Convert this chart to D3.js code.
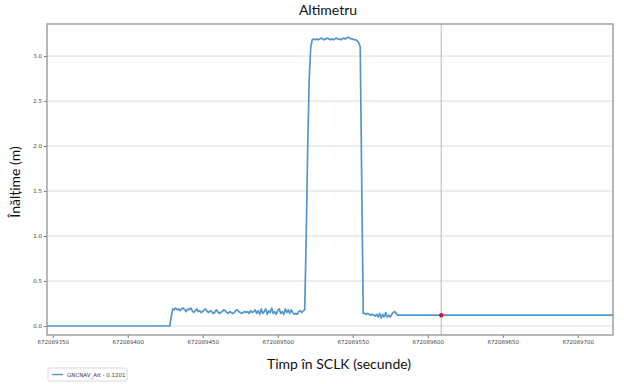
<!DOCTYPE html>
<html lang="ro">
<head>
<meta charset="UTF-8">
<title>Altimetru</title>
<style>
  body { margin: 0; background: #fff; }
  svg { display: block; }
</style>
</head>
<body>
<div id="chart"></div>
<script src="https://d3js.org/d3.v7.min.js"></script>
<script>
// SCLK base, sample times are seconds after this
const sclkBase = 672089000;

// altimeter samples: [seconds after base, height in m]
const altSamples = [
  [346, 0], [428, 0], [429, 0.1],
  [430, 0.19], [431, 0.18], [432, 0.2], [433, 0.18], [434, 0.19], [435, 0.17], [436, 0.19], [437, 0.2], [438, 0.18], [439, 0.16],
  [440, 0.19], [441, 0.18], [442, 0.2], [443, 0.17], [444, 0.15], [445, 0.17], [446, 0.19], [447, 0.16], [448, 0.17], [449, 0.15],
  [450, 0.16], [451, 0.18], [452, 0.19], [453, 0.16], [454, 0.15], [455, 0.17], [456, 0.16], [457, 0.14], [458, 0.15], [459, 0.18],
  [460, 0.16], [461, 0.14], [462, 0.15], [463, 0.16], [464, 0.18], [465, 0.17], [466, 0.15], [467, 0.14], [468, 0.16], [469, 0.15],
  [470, 0.14], [471, 0.15], [472, 0.17], [473, 0.18], [474, 0.16], [475, 0.15], [476, 0.14], [477, 0.15], [478, 0.16], [479, 0.15],
  [480, 0.16], [481, 0.14], [482, 0.17], [483, 0.15], [484, 0.16], [485, 0.18], [486, 0.14], [487, 0.17], [488, 0.13], [489, 0.19],
  [490, 0.14], [491, 0.16], [492, 0.19], [493, 0.13], [494, 0.17], [495, 0.15], [496, 0.2], [497, 0.14], [498, 0.16], [499, 0.13],
  [500, 0.17], [501, 0.19], [502, 0.14], [503, 0.16], [504, 0.13], [505, 0.19], [506, 0.15], [507, 0.18], [508, 0.14], [509, 0.18],
  [510, 0.15], [511, 0.13], [512, 0.14], [513, 0.13], [514, 0.16], [515, 0.17], [516, 0.15], [517, 0.17], [518, 0.18],
  [519, 1.0], [520, 2.0], [521, 2.75], [522, 3.1], [523, 3.18],
  [524, 3.19], [525, 3.18], [526, 3.19], [527, 3.18], [528, 3.19], [529, 3.2], [530, 3.19], [531, 3.18], [532, 3.19], [533, 3.2],
  [534, 3.19], [535, 3.18], [536, 3.19], [537, 3.18], [538, 3.19], [539, 3.2], [540, 3.19], [541, 3.19], [542, 3.18], [543, 3.19],
  [544, 3.2], [545, 3.19], [546, 3.2], [547, 3.21], [548, 3.2], [549, 3.19], [550, 3.19], [551, 3.18], [552, 3.18], [553, 3.17],
  [554, 3.15], [555, 3.1], [556, 1.6], [557, 0.14],
  [558, 0.14], [559, 0.13], [560, 0.14], [561, 0.13], [562, 0.12], [563, 0.13], [564, 0.12], [565, 0.11], [566, 0.13], [567, 0.1], [568, 0.14],
  [569, 0.09], [570, 0.13], [571, 0.1], [572, 0.15], [573, 0.1], [574, 0.12], [575, 0.1], [576, 0.13], [577, 0.15], [578, 0.16],
  [579, 0.14], [580, 0.12], [581, 0.12], [724, 0.12]
];

const cursorTime = 609;
const cursorValue = 0.1201;
const seriesName = "GNCNAV_Alt";

const xTicks = [350, 400, 450, 500, 550, 600, 650, 700];
const yTicks = [0, 0.5, 1, 1.5, 2, 2.5, 3];

const chartTitle = "Altimetru";
const xTitle = "Timp în SCLK (secunde)";
const yTitle = "Înălțime (m)";

const width = 624, height = 384;
const margin = { top: 24, right: 11, bottom: 49, left: 47 };
const innerW = width - margin.left - margin.right;
const innerH = height - margin.top - margin.bottom;
const lineColor = "#5596cc";
const labelFont = "Lato, 'Open Sans', sans-serif";

const svg = d3.select("#chart").append("svg")
  .attr("width", width)
  .attr("height", height);

const x = d3.scaleLinear()
  .domain([346.2, 723.5])
  .range([0, innerW]);

const y = d3.scaleLinear()
  .domain([-0.1, 3.356])
  .range([innerH, 0]);

const g = svg.append("g")
  .attr("transform", `translate(${margin.left},${margin.top})`);

// horizontal grid
g.append("g")
  .selectAll("line")
  .data(yTicks)
  .enter()
  .append("line")
  .attr("x1", 0)
  .attr("x2", innerW)
  .attr("y1", d => y(d))
  .attr("y2", d => y(d))
  .attr("stroke", "#dcdcdc")
  .attr("stroke-width", 1);

// cursor line
g.append("line")
  .attr("x1", x(cursorTime))
  .attr("x2", x(cursorTime))
  .attr("y1", 0)
  .attr("y2", innerH)
  .attr("stroke", "#b8b8b8")
  .attr("stroke-width", 1);

// data line
const line = d3.line()
  .x(d => x(d[0]))
  .y(d => y(d[1]));

g.append("path")
  .datum(altSamples)
  .attr("d", line)
  .attr("fill", "none")
  .attr("stroke", lineColor)
  .attr("stroke-width", 1.7)
  .attr("stroke-linejoin", "round");

g.append("circle")
  .attr("cx", x(cursorTime))
  .attr("cy", y(cursorValue))
  .attr("r", 2.2)
  .attr("fill", "#d0102a");

// axes
const xAxis = g.append("g")
  .attr("transform", `translate(0,${innerH})`)
  .call(d3.axisBottom(x).tickValues(xTicks).tickSize(3).tickPadding(2)
    .tickFormat(d => String(sclkBase + d)));

const yAxis = g.append("g")
  .call(d3.axisLeft(y).tickValues(yTicks).tickSize(3).tickPadding(2)
    .tickFormat(d3.format(".1f")));

[xAxis, yAxis].forEach(a => {
  a.select(".domain").remove();
  a.selectAll(".tick line").attr("stroke", "#777");
  a.selectAll(".tick text")
    .attr("fill", "#444")
    .style("font-family", "'DejaVu Sans', sans-serif")
    .style("font-size", "5.5px");
});

// frame
g.append("rect")
  .attr("x", 0)
  .attr("y", 0)
  .attr("width", innerW)
  .attr("height", innerH)
  .attr("fill", "none")
  .attr("stroke", "#9a9a9a")
  .attr("stroke-width", 1.4);

// titles
svg.append("text")
  .attr("x", 328)
  .attr("y", 15)
  .attr("text-anchor", "middle")
  .style("font-family", labelFont)
  .style("font-size", "14px")
  .attr("fill", "#111")
  .text(chartTitle);

svg.append("text")
  .attr("x", 339)
  .attr("y", 369)
  .attr("text-anchor", "middle")
  .style("font-family", labelFont)
  .style("font-size", "14px")
  .attr("fill", "#111")
  .text(xTitle);

svg.append("text")
  .attr("transform", "translate(20,182) rotate(-90)")
  .attr("text-anchor", "middle")
  .style("font-family", labelFont)
  .style("font-size", "14px")
  .attr("fill", "#111")
  .text(yTitle);

// legend
const legend = svg.append("g").attr("transform", "translate(48,368)");
legend.append("rect")
  .attr("width", 79)
  .attr("height", 13)
  .attr("rx", 1.5)
  .attr("fill", "#fff")
  .attr("stroke", "#d8d8d8");
legend.append("line")
  .attr("x1", 4).attr("x2", 15)
  .attr("y1", 6.5).attr("y2", 6.5)
  .attr("stroke", lineColor)
  .attr("stroke-width", 1.4);
legend.append("text")
  .attr("x", 19)
  .attr("y", 8.5)
  .style("font-family", "'DejaVu Sans', sans-serif")
  .style("font-size", "5.5px")
  .attr("fill", "#444")
  .text(`${seriesName} - ${cursorValue}`);
</script>
</body>
</html>
